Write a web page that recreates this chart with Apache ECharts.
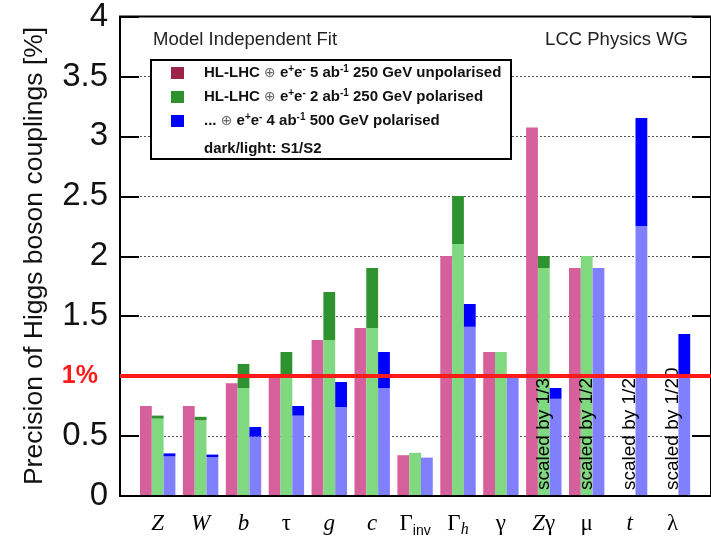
<!DOCTYPE html>
<html>
<head>
<meta charset="utf-8">
<script src="https://cdn.jsdelivr.net/npm/echarts@6/dist/echarts.min.js"></script>
<style>
  html, body { margin: 0; padding: 0; background: #fff; }
  #chart { width: 711px; height: 539px; }
</style>
</head>
<body>
<div id="chart"></div>
<script>
// Higgs couplings, model independent fit: relative precision in %
const categories = ['Z', 'W', 'b', 'τ', 'g', 'c', 'Γinv', 'Γh', 'γ', 'Zγ', 'μ', 't', 'λ'];

// HL-LHC + e+e- 5 ab-1 250 GeV unpolarised (S1 = dark, S2 = light)
const unpolS1 = [0.75, 0.75, 0.94, 1.0, 1.3, 1.4, 0.34, 2.0, 1.2, 3.07, 1.9, null, null];
const unpolS2 = [0.75, 0.75, 0.94, 1.0, 1.3, 1.4, 0.34, 2.0, 1.2, 3.07, 1.9, null, null];

// HL-LHC + e+e- 2 ab-1 250 GeV polarised
const polS1 = [0.67, 0.66, 1.1, 1.2, 1.7, 1.9, 0.36, 2.5, 1.2, 2.0, 2.0, null, null];
const polS2 = [0.645, 0.63, 0.9, 1.0, 1.3, 1.4, 0.36, 2.1, 1.2, 1.9, 2.0, null, null];

// ... + e+e- 4 ab-1 500 GeV polarised
const highS1 = [0.355, 0.345, 0.575, 0.75, 0.95, 1.2, 0.32, 1.6, 1.0, 0.9, 1.9, 3.15, 1.35];
const highS2 = [0.33, 0.325, 0.495, 0.67, 0.74, 0.9, 0.32, 1.41, 1.0, 0.81, 1.9, 2.25, 1.0];

// notes on couplings drawn with a scale factor
const scaleNotes = ['', '', '', '', '', '', '', '', '', 'scaled by 1/3', 'scaled by 1/2', 'scaled by 1/2', 'scaled by 1/20'];

const yTicks = [0, 0.5, 1, 1.5, 2, 2.5, 3, 3.5, 4];
const onePercent = 1;

const legendNames = [
  'HL-LHC ⊕ e+e- 5 ab-1 250 GeV unpolarised',
  'HL-LHC ⊕ e+e- 2 ab-1 250 GeV polarised',
  '... ⊕ e+e- 4 ab-1 500 GeV polarised'
];
const legendRich = [
  '{sp|}{b|HL-LHC }{o|⊕}{b| e}{s|+}{b|e}{s|-}{b| 5 ab}{s|-1}{b| 250 GeV unpolarised}',
  '{sp|}{b|HL-LHC }{o|⊕}{b| e}{s|+}{b|e}{s|-}{b| 2 ab}{s|-1}{b| 250 GeV polarised}',
  '{sp|}{b|... }{o|⊕}{b| e}{s|+}{b|e}{s|-}{b| 4 ab}{s|-1}{b| 500 GeV polarised}'
];

const xLabelRich = {
  'Z': '{i|Z}', 'W': '{i|W}', 'b': '{i|b}', 'τ': '{g|τ}', 'g': '{i|g}', 'c': '{i|c}',
  'Γinv': '{g|Γ}{sub|inv}', 'Γh': '{g|Γ}{subi|h}', 'γ': '{g|γ}', 'Zγ': '{i|Z}{g|γ}',
  'μ': '{g|μ}', 't': '{i|t}', 'λ': '{g|λ}'
};

const colors = {
  unpolLight: '#d6609b', unpolDark: '#9c2449',
  polLight: '#80d880', polDark: '#2e922e',
  highLight: '#8080ff', highDark: '#0000ff'
};

function diff(a, b) {
  return a.map((v, i) => (v == null || b[i] == null) ? null : +(v - b[i]).toFixed(4));
}

const chart = echarts.init(document.getElementById('chart'), null, { renderer: 'canvas' });

const barCommon = { type: 'bar', xAxisIndex: 1, yAxisIndex: 2, barWidth: 11.8, barGap: '0%', z: 2 };

const option = {
  backgroundColor: '#fff',
  animation: false,
  grid: [
    { left: 120, top: 16, right: -5, bottom: 43, show: true, borderColor: '#000', borderWidth: 2, backgroundColor: 'transparent', z: 3 },
    { left: 136.25, width: 557.7, top: 16, bottom: 43 }
  ],
  xAxis: [
    { gridIndex: 0, type: 'value', min: 0, max: 1, show: false },
    {
      gridIndex: 1, type: 'category', data: categories,
      axisLine: { show: false }, axisTick: { show: false },
      axisLabel: {
        interval: 0,
        margin: 14,
        formatter: v => xLabelRich[v],
        rich: {
          i: { fontFamily: 'Liberation Serif', fontStyle: 'italic', fontSize: 23, color: '#000', lineHeight: 28 },
          g: { fontFamily: 'Liberation Serif', fontSize: 23, color: '#000', lineHeight: 28 },
          sub: { fontFamily: 'Liberation Sans', fontSize: 14, color: '#000', verticalAlign: 'bottom', lineHeight: 16 },
          subi: { fontFamily: 'Liberation Serif', fontStyle: 'italic', fontSize: 16, color: '#000', verticalAlign: 'bottom', lineHeight: 18 }
        }
      }
    }
  ],
  yAxis: [
    {
      gridIndex: 0, type: 'value', min: yTicks[0], max: yTicks[yTicks.length - 1], interval: 0.5,
      axisLine: { show: false },
      axisTick: { show: true, inside: true, length: 19, lineStyle: { color: '#000', width: 2 } },
      axisLabel: {
        margin: 12,
        fontFamily: 'Liberation Sans', fontSize: 33, color: '#111',
        formatter: v => (v === onePercent ? '{r|1%}' : String(v)),
        rich: { r: { fontFamily: 'Liberation Sans', fontWeight: 'bold', fontSize: 25, color: '#ff1a1a', padding: [0, 10, 0, 0] } }
      },
      splitLine: { show: true, lineStyle: { color: '#555', width: 1, type: [2, 2] } }
    },
    {
      gridIndex: 0, type: 'value', position: 'right', min: 0, max: 4, interval: 0.5,
      axisLine: { show: false },
      axisTick: { show: true, inside: true, length: 19, lineStyle: { color: '#000', width: 2 } },
      axisLabel: { show: false }, splitLine: { show: false }
    },
    { gridIndex: 1, type: 'value', min: 0, max: 4, show: false }
  ],
  legend: {
    left: 171, top: 64, orient: 'vertical', padding: 0,
    itemWidth: 13, itemHeight: 12, itemGap: 7.5, icon: 'rect',
    data: legendNames, z: 12,
    formatter: name => legendRich[legendNames.indexOf(name)],
    textStyle: {
      rich: {
        sp: { width: 15 },
        b: { fontFamily: 'Liberation Sans', fontWeight: 'bold', fontSize: 15, color: '#111', lineHeight: 18 },
        o: { fontFamily: 'DejaVu Sans', fontSize: 14, color: '#666', lineHeight: 18 },
        s: { fontFamily: 'Liberation Sans', fontWeight: 'bold', fontSize: 10, color: '#111', verticalAlign: 'top', lineHeight: 10 }
      }
    }
  },
  graphic: [
    { type: 'rect', left: 150, top: 59, z: 10, shape: { width: 360, height: 99 }, style: { fill: '#fff', stroke: '#000', lineWidth: 2 } },
    { type: 'text', left: 204, top: 141, z: 12, style: { text: 'dark/light: S1/S2', font: 'bold 15px "Liberation Sans"', fill: '#111' } },
    { type: 'text', left: 153, top: 30, z: 12, style: { text: 'Model Independent Fit', font: '18.5px "Liberation Sans"', fill: '#222' } },
    { type: 'text', right: 23, top: 30, z: 12, style: { text: 'LCC Physics WG', font: '18.5px "Liberation Sans"', fill: '#222' } },
    {
      type: 'text', x: 35, y: 256, rotation: Math.PI / 2, z: 12,
      style: { text: 'Precision of Higgs boson couplings [%]', font: '26.5px "Liberation Sans"', fill: '#111', align: 'center', verticalAlign: 'middle' }
    }
  ],
  series: [
    {
      type: 'line', xAxisIndex: 0, yAxisIndex: 0, data: [], z: 6,
      markLine: {
        silent: true, symbol: ['none', 'none'], label: { show: false },
        lineStyle: { color: '#ff1a1a', width: 4, type: 'solid' },
        data: [{ yAxis: onePercent }]
      }
    },
    Object.assign({}, barCommon, { name: 'unpol S2', stack: 'unpol', data: unpolS2, itemStyle: { color: colors.unpolLight } }),
    Object.assign({}, barCommon, { name: legendNames[0], stack: 'unpol', data: diff(unpolS1, unpolS2), itemStyle: { color: colors.unpolDark } }),
    Object.assign({}, barCommon, { name: 'pol S2', stack: 'pol', data: polS2, itemStyle: { color: colors.polLight } }),
    Object.assign({}, barCommon, { name: legendNames[1], stack: 'pol', data: diff(polS1, polS2), itemStyle: { color: colors.polDark } }),
    Object.assign({}, barCommon, { name: 'high S2', stack: 'high', data: highS2, itemStyle: { color: colors.highLight } }),
    Object.assign({}, barCommon, { name: legendNames[2], stack: 'high', data: diff(highS1, highS2), itemStyle: { color: colors.highDark } }),
    {
      type: 'custom', xAxisIndex: 1, yAxisIndex: 2, z: 4, silent: true,
      data: scaleNotes.map((t, i) => [i, 0]).filter((d, i) => scaleNotes[i] !== ''),
      renderItem: (params, api) => {
        const idx = api.value(0);
        const p = api.coord([idx, 0]);
        return {
          type: 'text', x: p[0], y: p[1] - 6, rotation: Math.PI / 2,
          style: { text: scaleNotes[idx], font: '19px "Liberation Sans"', fill: '#000', align: 'left', verticalAlign: 'middle' }
        };
      }
    }
  ]
};

chart.setOption(option);
</script>
</body>
</html>
